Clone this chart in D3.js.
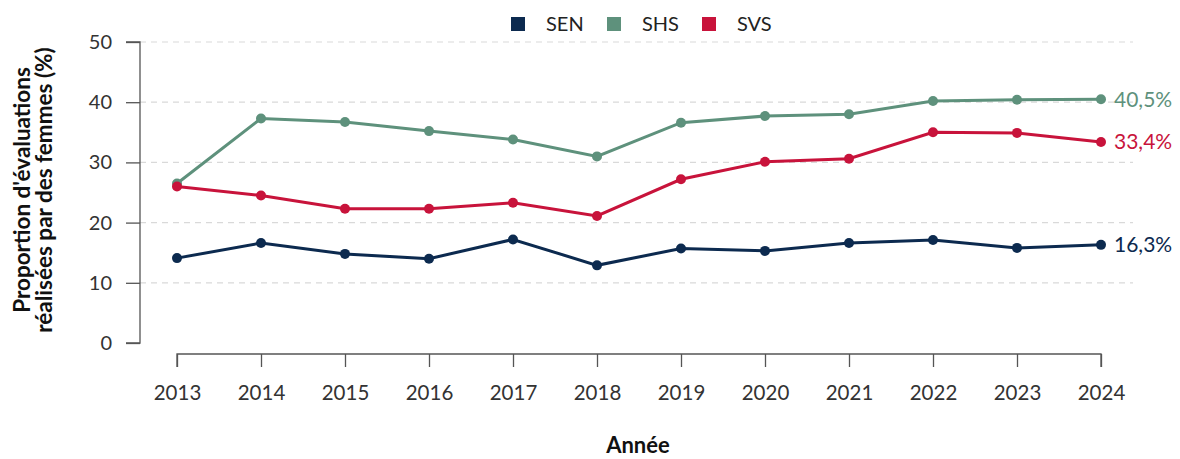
<!DOCTYPE html>
<html><head><meta charset="utf-8">
<script src="https://cdn.jsdelivr.net/npm/d3@7"></script>
<style>body{margin:0;background:#fff}svg{display:block}text{font-family:"Lato","Noto Sans",sans-serif}</style>
</head><body><svg id="c" width="1180" height="459"></svg>
<script>
const years = [2013,2014,2015,2016,2017,2018,2019,2020,2021,2022,2023,2024];
const seriesNames = ["SEN","SHS","SVS"];
const colors = ["#0c2a4f","#5e917c","#c8133b"];
const SEN = [14.1,16.6,14.8,14.0,17.2,12.9,15.7,15.3,16.6,17.1,15.8,16.3];
const SHS = [26.5,37.3,36.7,35.2,33.8,31.0,36.6,37.7,38.0,40.2,40.4,40.5];
const SVS = [26.0,24.5,22.3,22.3,23.3,21.1,27.2,30.1,30.6,35.0,34.9,33.4];
const yTicks = [0,10,20,30,40,50];
const endLabels = ["16,3%","40,5%","33,4%"];

const data = [SEN,SHS,SVS];
const svg = d3.select("#c");
const x = d3.scalePoint().domain(years).range([177,1101]);
const y = d3.scaleLinear().domain([0,50]).range([343,42]);

// grid
svg.append("g").selectAll("line").data(yTicks.filter(d=>d>0)).join("line")
  .attr("x1",140).attr("x2",1133).attr("y1",d=>y(d)).attr("y2",d=>y(d))
  .attr("stroke","#d9d9d9").attr("stroke-width",1.2).attr("stroke-dasharray","6,5");

// y axis
const ya = svg.append("g").attr("transform","translate(140,0)")
  .call(d3.axisLeft(y).tickValues(yTicks).tickSize(14).tickPadding(14).tickFormat(d3.format("d")));
ya.selectAll("path,line").attr("stroke","#555").attr("stroke-width",1.3);
ya.select(".domain").attr("d","M-14,"+y(50)+"H0V"+y(0)+"H-14");
ya.selectAll("text").attr("font-size",20).attr("fill","#333").style("font-family","Lato,sans-serif");

// x axis
const xa = svg.append("g").attr("transform","translate(0,354)")
  .call(d3.axisBottom(x).tickSize(13).tickPadding(18).tickFormat(d3.format("d")));
xa.selectAll("path,line").attr("stroke","#555").attr("stroke-width",1.3);
xa.select(".domain").attr("d","M177,13V0H1101V13");
xa.selectAll("text").attr("font-size",20.5).attr("fill","#333").style("font-family","Lato,sans-serif");

// lines
const line = d3.line().x((d,i)=>x(years[i])).y(d=>y(d));
data.forEach((s,k)=>{
  svg.append("path").attr("d",line(s)).attr("fill","none").attr("stroke",colors[k]).attr("stroke-width",3);
  svg.append("g").selectAll("circle").data(s).join("circle")
    .attr("cx",(d,i)=>x(years[i])).attr("cy",d=>y(d)).attr("r",5).attr("fill",colors[k]);
  svg.append("text").attr("x",x(years[years.length-1])+13).attr("y",y(s[s.length-1]))
    .attr("dy","0.36em").attr("font-size",21).attr("fill",colors[k]).text(endLabels[k]);
});

// legend
const lx = [511,607,702];
seriesNames.forEach((n,k)=>{
  svg.append("rect").attr("x",lx[k]).attr("y",17).attr("width",14).attr("height",14).attr("fill",colors[k]);
  svg.append("text").attr("x",lx[k]+35).attr("y",24).attr("dy","0.36em").attr("font-size",20).attr("fill","#222").text(n);
});

// axis titles
svg.append("text").attr("x",638).attr("y",453).attr("text-anchor","middle")
  .attr("font-size",22).attr("font-weight","bold").attr("fill","#111").text("Année");
const yt = svg.append("text").attr("transform","translate(0,190) rotate(-90)")
  .attr("text-anchor","middle").attr("font-size",22.5).attr("font-weight","bold").attr("fill","#111");
yt.append("tspan").attr("x",0).attr("y",29.5).text("Proportion d'évaluations");
yt.append("tspan").attr("x",0).attr("y",52).text("réalisées par des femmes (%)");
</script></body></html>
